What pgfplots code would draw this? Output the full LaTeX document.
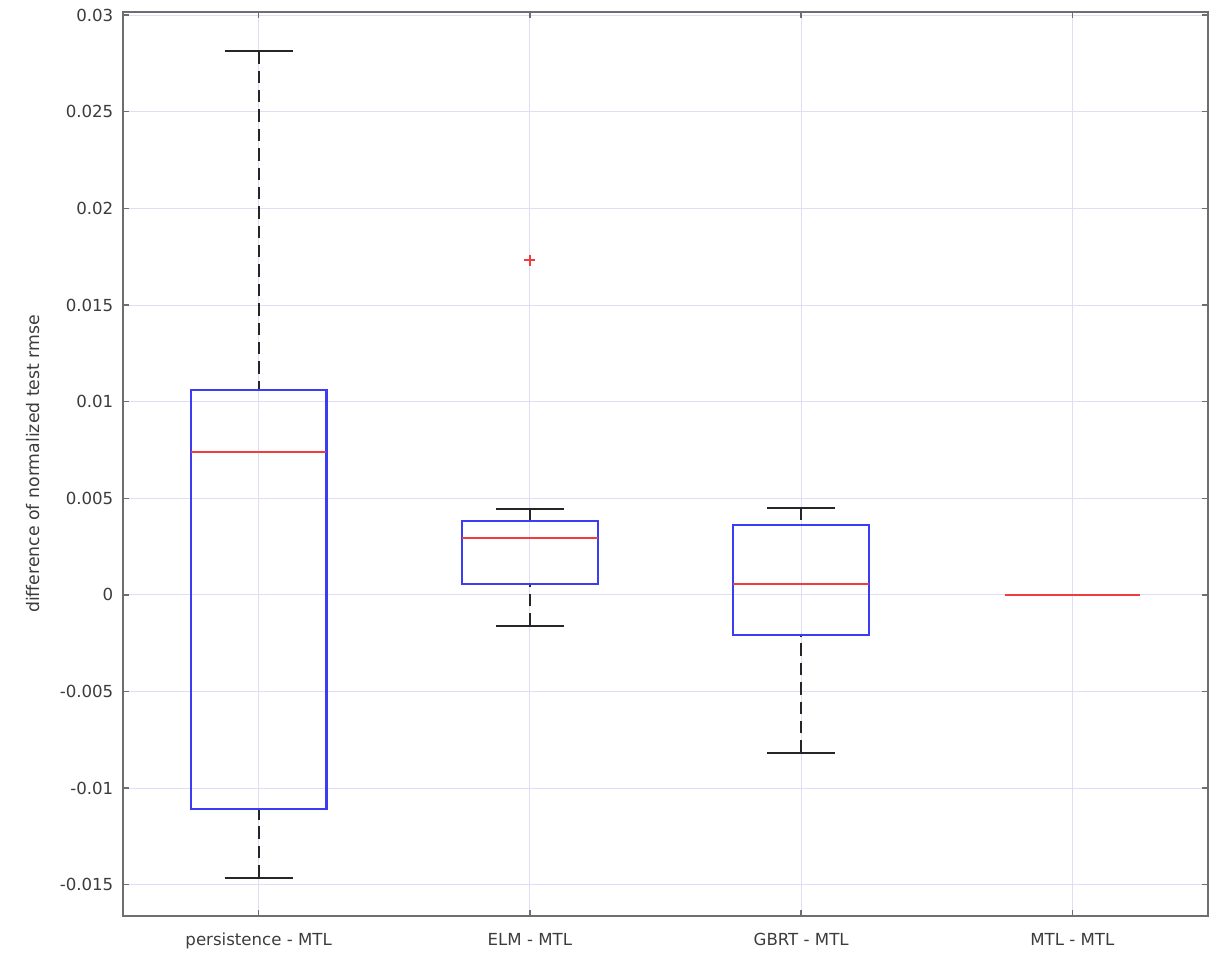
\documentclass[border=0pt]{standalone}
\usepackage{pgfplots}
\pgfplotsset{compat=1.18}
\usepgfplotslibrary{statistics}
\usepackage{fontspec}
\setmainfont{DejaVu Sans}
\definecolor{gridc}{RGB}{222,222,248}
\definecolor{boxc}{RGB}{60,60,245}
\definecolor{medc}{RGB}{240,60,60}
\definecolor{axc}{RGB}{110,110,110}
\definecolor{txtc}{RGB}{60,60,60}
\begin{document}
\begin{tikzpicture}
\begin{axis}[
  scale only axis,
  width=784pt, height=653pt,
  xmin=0.5, xmax=4.5,
  ymin=-0.0166, ymax=0.03016,
  xtick={1,2,3,4},
  xticklabels={persistence - MTL, ELM - MTL, GBRT - MTL, MTL - MTL},
  ytick={-0.015,-0.01,-0.005,0,0.005,0.01,0.015,0.02,0.025,0.03},
  scaled y ticks=false,
  yticklabel style={/pgf/number format/fixed, /pgf/number format/precision=3, xshift=-3.5pt},
  xticklabel style={yshift=-9pt},
  /pgf/number format/assume math mode=true,
  tick label style={font=\fontsize{12}{14}\selectfont, text=txtc},
  ylabel={difference of normalized test rmse},
  ylabel style={font=\fontsize{12.5}{14}\selectfont, text=txtc},
  ylabel shift=7.5pt,
  grid=major,
  major grid style={gridc, line width=0.7pt},
  tick align=inside,
  major tick length=4pt,
  tick style={axc, line width=1pt},
  axis line style={axc, line width=1.5pt},
  xtick pos=both, ytick pos=both,
  boxplot/draw direction=y,
  boxplot/box extend=0.5,
  boxplot/every box/.style={draw=boxc, line width=1.5pt},
  boxplot/every median/.style={draw=medc, line width=1.4pt},
  boxplot/draw/lower whisker/.code={
    \draw[black!85, line width=1.4pt, dash pattern=on 9pt off 5pt]
      (boxplot box cs:\pgfplotsboxplotvalue{lower whisker},0.5) --
      (boxplot box cs:\pgfplotsboxplotvalue{lower quartile},0.5);
    \draw[black!85, line width=1.4pt]
      (boxplot box cs:\pgfplotsboxplotvalue{lower whisker},0.25) --
      (boxplot box cs:\pgfplotsboxplotvalue{lower whisker},0.75);
  },
  boxplot/draw/upper whisker/.code={
    \draw[black!85, line width=1.4pt, dash pattern=on 9pt off 5pt]
      (boxplot box cs:\pgfplotsboxplotvalue{upper whisker},0.5) --
      (boxplot box cs:\pgfplotsboxplotvalue{upper quartile},0.5);
    \draw[black!85, line width=1.4pt]
      (boxplot box cs:\pgfplotsboxplotvalue{upper whisker},0.25) --
      (boxplot box cs:\pgfplotsboxplotvalue{upper whisker},0.75);
  },
]
\addplot[boxplot prepared={draw position=1,
  lower whisker=-0.01463, lower quartile=-0.01107, median=0.0074,
  upper quartile=0.0106, upper whisker=0.02813}] coordinates {};
\addplot[boxplot prepared={draw position=2,
  lower whisker=-0.0016, lower quartile=0.00057, median=0.00295,
  upper quartile=0.00383, upper whisker=0.00445},
  mark=+, mark size=4pt, mark options={medc, line width=1.2pt}]
  table[row sep=\\, y index=0] {y\\ 0.01732\\};
\addplot[boxplot prepared={draw position=3,
  lower whisker=-0.00817, lower quartile=-0.00207, median=0.00057,
  upper quartile=0.00362, upper whisker=0.0045}] coordinates {};
\addplot[boxplot prepared={draw position=4,
  lower whisker=0, lower quartile=0, median=0,
  upper quartile=0, upper whisker=0},
  boxplot/draw/lower whisker/.code={},
  boxplot/draw/upper whisker/.code={},
  boxplot/every box/.style={draw=none}] coordinates {};
\end{axis}
\path ([xshift=-88.9pt,yshift=-23.9pt]current axis.south west) rectangle ([xshift=6.5pt,yshift=8.7pt]current axis.north east);
\end{tikzpicture}
\end{document}
